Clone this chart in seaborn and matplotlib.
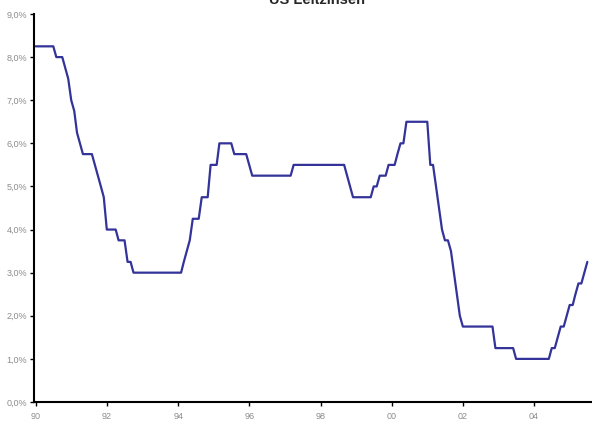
import numpy as np
import pandas as pd
import seaborn as sns
import matplotlib.pyplot as plt
import matplotlib.dates as mdates

# US fed funds target rate, month-end values, Dec 1989 .. Jun 2005
rates = [
    8.25,                                                                    # Dec 89
    8.25, 8.25, 8.25, 8.25, 8.25, 8.25, 8.00, 8.00, 8.00, 7.75, 7.50, 7.00,  # 1990
    6.75, 6.25, 6.00, 5.75, 5.75, 5.75, 5.75, 5.50, 5.25, 5.00, 4.75, 4.00,  # 1991
    4.00, 4.00, 4.00, 3.75, 3.75, 3.75, 3.25, 3.25, 3.00, 3.00, 3.00, 3.00,  # 1992
    3.00, 3.00, 3.00, 3.00, 3.00, 3.00, 3.00, 3.00, 3.00, 3.00, 3.00, 3.00,  # 1993
    3.00, 3.25, 3.50, 3.75, 4.25, 4.25, 4.25, 4.75, 4.75, 4.75, 5.50, 5.50,  # 1994
    5.50, 6.00, 6.00, 6.00, 6.00, 6.00, 5.75, 5.75, 5.75, 5.75, 5.75, 5.50,  # 1995
    5.25, 5.25, 5.25, 5.25, 5.25, 5.25, 5.25, 5.25, 5.25, 5.25, 5.25, 5.25,  # 1996
    5.25, 5.25, 5.50, 5.50, 5.50, 5.50, 5.50, 5.50, 5.50, 5.50, 5.50, 5.50,  # 1997
    5.50, 5.50, 5.50, 5.50, 5.50, 5.50, 5.50, 5.50, 5.25, 5.00, 4.75, 4.75,  # 1998
    4.75, 4.75, 4.75, 4.75, 4.75, 5.00, 5.00, 5.25, 5.25, 5.25, 5.50, 5.50,  # 1999
    5.50, 5.75, 6.00, 6.00, 6.50, 6.50, 6.50, 6.50, 6.50, 6.50, 6.50, 6.50,  # 2000
    5.50, 5.50, 5.00, 4.50, 4.00, 3.75, 3.75, 3.50, 3.00, 2.50, 2.00, 1.75,  # 2001
    1.75, 1.75, 1.75, 1.75, 1.75, 1.75, 1.75, 1.75, 1.75, 1.75, 1.25, 1.25,  # 2002
    1.25, 1.25, 1.25, 1.25, 1.25, 1.00, 1.00, 1.00, 1.00, 1.00, 1.00, 1.00,  # 2003
    1.00, 1.00, 1.00, 1.00, 1.00, 1.25, 1.25, 1.50, 1.75, 1.75, 2.00, 2.25,  # 2004
    2.25, 2.50, 2.75, 2.75, 3.00, 3.25,                                      # 2005
]
months = pd.date_range("1989-12-31", periods=len(rates), freq="ME")
tick_years = [1990, 1992, 1994, 1996, 1998, 2000, 2002, 2004]
tick_labels = ["90", "92", "94", "96", "98", "00", "02", "04"]

df = pd.DataFrame({"Monat": months, "Zins": rates})

sns.set_style("white")
plt.rcParams["font.family"] = ["Liberation Sans", "DejaVu Sans"]

fig = plt.figure(figsize=(5.92, 4.23), dpi=100)
ax = fig.add_axes([34 / 592, 21 / 423, 558 / 592, 388 / 423])

sns.lineplot(data=df, x="Monat", y="Zins", color="#333399", linewidth=1.6, ax=ax)

ax.set_xlim(pd.Timestamp("1989-12-14"), pd.Timestamp("2005-08-17"))
ax.set_ylim(0, 9)
ax.set_xticks([pd.Timestamp(f"{y}-01-01") for y in tick_years])
ax.set_xticklabels(tick_labels)
ax.set_yticks(np.arange(0, 10, 1))
ax.set_yticklabels([f"{v:.1f}%".replace(".", ",") for v in np.arange(0, 10, 1)])
ax.set_xlabel("")
ax.set_ylabel("")

for s in ["top", "right"]:
    ax.spines[s].set_visible(False)
for s in ["left", "bottom"]:
    ax.spines[s].set_color("black")
    ax.spines[s].set_linewidth(1.5)
ax.tick_params(axis="both", direction="out", length=3, width=1, color="black",
               labelsize=6.5, labelcolor="#8c8c8c", pad=2, left=True, bottom=True)
ax.tick_params(axis="x", pad=4)

fig.text(0.535, 1 - 4.5 / 423, "US Leitzinsen", ha="center", va="baseline",
         fontsize=10.5, fontweight="bold")

fig.savefig("out.png", dpi=100)
